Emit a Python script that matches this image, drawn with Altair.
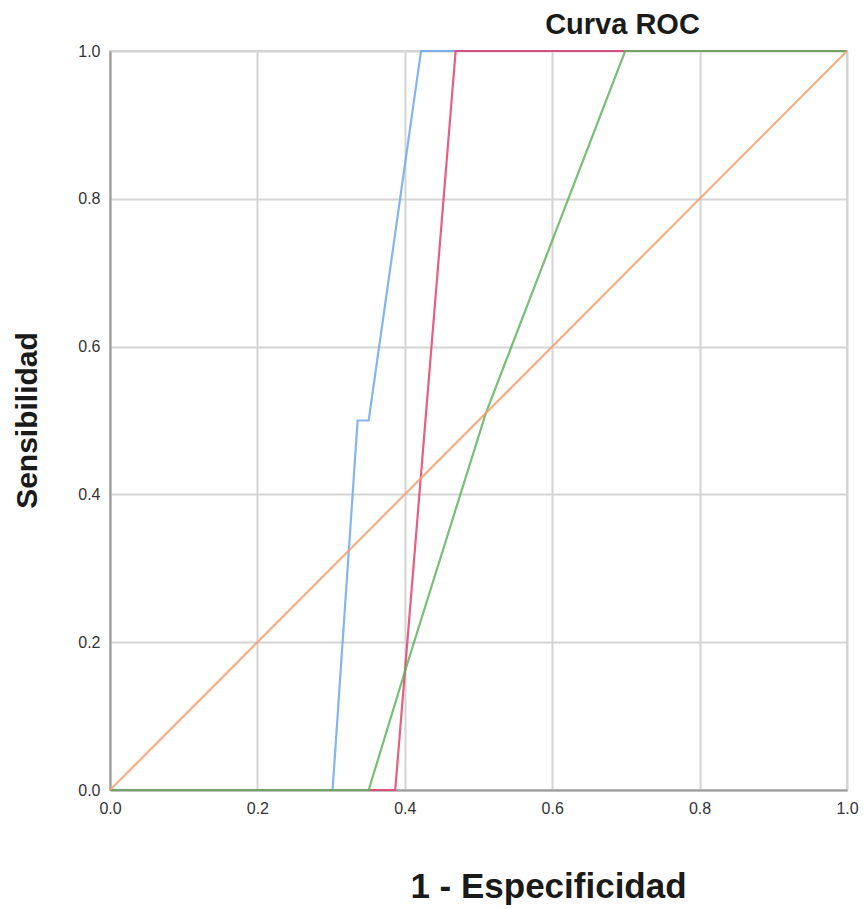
import altair as alt
import pandas as pd

# ROC curve points
blue_x = [0.0, 0.302, 0.336, 0.351, 0.422, 1.0]
blue_y = [0.0, 0.0, 0.5, 0.5, 1.0, 1.0]
red_x = [0.0, 0.387, 0.469, 1.0]
red_y = [0.0, 0.0, 1.0, 1.0]
green_x = [0.0, 0.351, 0.400, 0.510, 0.699, 1.0]
green_y = [0.0, 0.0, 0.16, 0.51, 1.0, 1.0]
ref_x = [0.0, 1.0]
ref_y = [0.0, 1.0]

series = ["Azul", "Rojo", "Verde", "Referencia"]
colors = ["#6fa8ec", "#e2426e", "#5fb35f", "#f5a070"]

rows = []
for name, xs, ys in [("Azul", blue_x, blue_y), ("Rojo", red_x, red_y),
                     ("Verde", green_x, green_y), ("Referencia", ref_x, ref_y)]:
    for i, (x, y) in enumerate(zip(xs, ys)):
        rows.append({"serie": name, "x": x, "y": y, "i": i})
df = pd.DataFrame(rows)

ticks = [0.0, 0.2, 0.4, 0.6, 0.8, 1.0]

chart = alt.Chart(df).mark_line(strokeWidth=2.2, strokeOpacity=0.85).encode(
    x=alt.X("x:Q", scale=alt.Scale(domain=[0, 1], nice=False),
            axis=alt.Axis(title="1 - Especificidad", values=ticks, format=".1f",
                          labelFlush=False,
                          titleX=438, titleY=96, titleBaseline="middle", titleAlign="center",
                          titleFontSize=35, titleFontWeight="bold", titleColor="#1a1a1a",
                          titleFont="Liberation Sans")),
    y=alt.Y("y:Q", scale=alt.Scale(domain=[0, 1], nice=False),
            axis=alt.Axis(title="Sensibilidad", values=ticks, format=".1f",
                          labelFlush=False,
                          titleX=-83, titleY=369, titleBaseline="middle", titleAlign="center",
                          titleFontSize=30, titleFontWeight="bold", titleColor="#1a1a1a",
                          titleFont="Liberation Sans")),
    color=alt.Color("serie:N", scale=alt.Scale(domain=series, range=colors), legend=None),
    detail="serie:N",
    order="i:Q",
).properties(
    width=737, height=739,
    title=alt.TitleParams("Curva ROC", fontSize=29, fontWeight="bold", color="#1a1a1a",
                          font="Liberation Sans", anchor="middle", dx=144, offset=3),
    autosize=alt.AutoSizeParams(type="none"),
    padding={"left": 110, "top": 51, "right": 18, "bottom": 119},
).configure_axis(
    grid=True, gridColor="#d4d4d4", gridWidth=2,
    domainColor="#9a9a9a", domainWidth=2,
    ticks=False, labelPadding=10,
    labelFont="Liberation Sans", labelFontSize=16, labelColor="#333333",
).configure_view(stroke="#d4d4d4", strokeWidth=2)

chart.save("out.html", embed_options={"renderer": "svg", "actions": False})
